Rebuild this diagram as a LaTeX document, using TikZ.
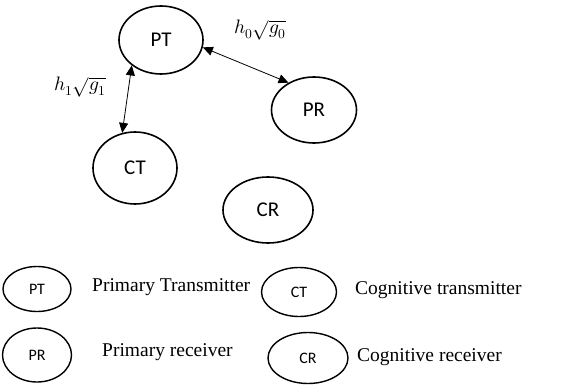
\documentclass[tikz,border=0pt]{standalone}
\usepackage{fontspec}
\usepackage{unicode-math}
\setmainfont{Liberation Serif}
\setmathfont{Latin Modern Math}
\newfontfamily\nodefont{Carlito}
\usetikzlibrary{shapes.geometric,arrows.meta}
\tikzset{
  bignode/.style={ellipse,draw,line width=1.6pt,inner sep=0pt,font=\nodefont\fontsize{21}{21}\selectfont},
  smallnode/.style={ellipse,draw,line width=1.4pt,inner sep=0pt,font=\nodefont\fontsize{16}{16}\selectfont},
  link/.style={{Triangle[length=10pt,width=9pt]}-{Triangle[length=10pt,width=9pt]},line width=0.8pt},
  legtext/.style={font=\fontsize{19.5}{19.5}\selectfont,inner sep=0pt},
  mathlabel/.style={font=\fontsize{19.5}{19.5}\selectfont,inner sep=0pt}
}
\begin{document}
\begin{tikzpicture}[x=1pt,y=-1pt]
\useasboundingbox (0,0) rectangle (577,387);
\node[bignode,minimum width=84pt,minimum height=68pt] (PT) at (161,40) {PT};
\node[bignode,minimum width=85pt,minimum height=66pt] (PR) at (314,110) {PR};
\node[bignode,minimum width=84pt,minimum height=72pt] (CT) at (135,168) {CT};
\node[bignode,minimum width=90pt,minimum height=66pt] (CR) at (268,210) {CR};
\draw[link] (PT.350) -- (PR.133);
\draw[link] (PT.221) -- (CT.110);
\node[mathlabel] (l0) at (260,30) {$h_0\sqrt{g_0}$};
\node[mathlabel] (l1) at (80,87) {$h_1\sqrt{g_1}$};
% legend
\node[smallnode,minimum width=68pt,minimum height=45pt] (LPT) at (37,289) {PT};
\node[legtext,anchor=west] (tPT) at (92,287) {Primary Transmitter};
\node[smallnode,minimum width=75pt,minimum height=49pt] (LCT) at (299,292) {CT};
\node[legtext,anchor=west] (tCT) at (355,290) {Cognitive transmitter};
\node[smallnode,minimum width=69pt,minimum height=54pt] (LPR) at (37,355) {PR};
\node[legtext,anchor=west] (tPR) at (102,352) {Primary receiver};
\node[smallnode,minimum width=80pt,minimum height=51pt] (LCR) at (308,358) {CR};
\node[legtext,anchor=west] (tCR) at (357,357) {Cognitive receiver};
\end{tikzpicture}
\end{document}
